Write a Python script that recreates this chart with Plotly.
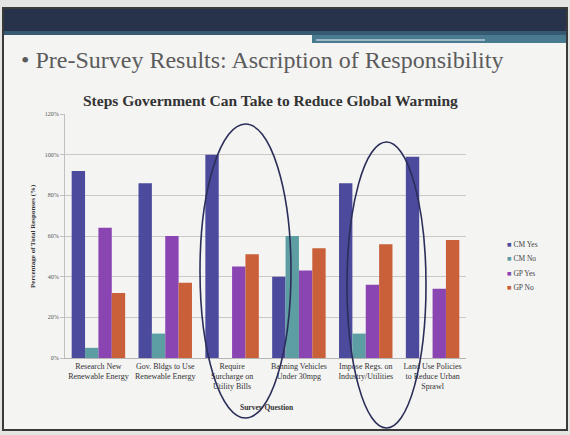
import plotly.graph_objects as go

# Survey questions (x categories)
questions = [
    "Research New<br>Renewable Energy",
    "Gov. Bldgs to Use<br>Renewable Energy",
    "Require<br>Surcharge on<br>Utility Bills",
    "Banning Vehicles<br>Under 30mpg",
    "Impose Regs. on<br>Industry/Utilities",
    "Land Use Policies<br>to Reduce Urban<br>Sprawl",
]

# Percentage of total responses per group
cm_yes = [92, 86, 100, 40, 86, 99]
cm_no = [5, 12, 0, 60, 12, 0]
gp_yes = [64, 60, 45, 43, 36, 34]
gp_no = [32, 37, 51, 54, 56, 58]

series_names = ["CM Yes", "CM No", "GP Yes", "GP No"]
series_values = [cm_yes, cm_no, gp_yes, gp_no]
series_colors = ["#4b4a9c", "#5c9ea2", "#8a45b3", "#c9603a"]

y_ticks = [0, 20, 40, 60, 80, 100, 120]

W, H = 570, 435
PL, PR, PT, PB = 65, 466, 114, 358  # plot-area edges in pixels

def px(x):
    return (x - PL) / (PR - PL)

def py(y):
    return (PB - y) / (PB - PT)

serif = "Liberation Serif"

fig = go.Figure()
for name, vals, col in zip(series_names, series_values, series_colors):
    fig.add_trace(go.Bar(
        x=questions, y=vals, name=name,
        marker=dict(color=col, line=dict(width=0)),
        showlegend=False,
    ))

shapes = []
# outer slide frame and body
shapes.append(dict(type="rect", xref="paper", yref="paper",
                   x0=px(3), x1=px(567), y0=py(430), y1=py(8),
                   fillcolor="#f4f4f3", line=dict(color="#3a3a3a", width=2),
                   layer="below"))
# header band
shapes.append(dict(type="rect", xref="paper", yref="paper",
                   x0=px(4), x1=px(566), y0=py(31), y1=py(9),
                   fillcolor="#27334b", line=dict(width=0), layer="below"))
shapes.append(dict(type="rect", xref="paper", yref="paper",
                   x0=px(4), x1=px(566), y0=py(35), y1=py(31),
                   fillcolor="#355a72", line=dict(width=0), layer="below"))
shapes.append(dict(type="rect", xref="paper", yref="paper",
                   x0=px(312), x1=px(566), y0=py(43), y1=py(35),
                   fillcolor="#4a7a90", line=dict(width=0), layer="below"))
shapes.append(dict(type="line", xref="paper", yref="paper",
                   x0=px(316), x1=px(485), y0=py(40), y1=py(40),
                   line=dict(color="#b9ccd8", width=1.5), layer="below"))
# hand-drawn highlight ellipses
for x0, x1, y0, y1 in [(200, 291, 124, 418), (347, 426, 142, 428)]:
    shapes.append(dict(type="circle", xref="paper", yref="paper",
                       x0=px(x0), x1=px(x1), y0=py(y1), y1=py(y0),
                       line=dict(color="#2b2e58", width=1.6)))

annotations = [
    dict(text="\u2022 Pre-Survey Results: Ascription of Responsibility",
         xref="paper", yref="paper", x=px(19), y=py(60),
         xanchor="left", yanchor="middle", showarrow=False,
         font=dict(family=serif, size=24, color="#5b5b5b")),
    dict(text="<b>Steps Government Can Take to Reduce Global Warming</b>",
         xref="paper", yref="paper", x=px(270), y=py(100),
         xanchor="center", yanchor="middle", showarrow=False,
         font=dict(family=serif, size=15.5, color="#333333")),
    dict(text="<b>Percentage of Total Responses (%)</b>",
         xref="paper", yref="paper", x=px(33), y=py(236),
         xanchor="center", yanchor="middle", showarrow=False, textangle=-90,
         font=dict(family=serif, size=7, color="#333333")),
    dict(text="<b>Survey Question</b>",
         xref="paper", yref="paper", x=px(267), y=py(407),
         xanchor="center", yanchor="middle", showarrow=False,
         font=dict(family=serif, size=7.5, color="#333333")),
]
# legend entries
for i, (name, col) in enumerate(zip(series_names, series_colors)):
    annotations.append(dict(
        text=f"<span style='color:{col}'>\u25a0</span> {name}",
        xref="paper", yref="paper", x=px(505), y=py(244 + i * 14.5),
        xanchor="left", yanchor="middle", showarrow=False,
        font=dict(family=serif, size=7.5, color="#444444")))

fig.update_layout(
    width=W, height=H,
    margin=dict(l=PL, r=W - PR, t=PT, b=H - PB),
    paper_bgcolor="#e4e4e2",
    plot_bgcolor="rgba(0,0,0,0)",
    barmode="group",
    bargap=0.2,
    bargroupgap=0,
    shapes=shapes,
    annotations=annotations,
    showlegend=False,
)
fig.update_xaxes(
    tickangle=0,
    tickfont=dict(family=serif, size=8, color="#333333"),
    showline=True, linecolor="#b5b5b5", linewidth=1,
    ticks="", showgrid=False,
)
fig.update_yaxes(
    range=[0, 120], tickvals=y_ticks,
    ticktext=[f"{v}%" for v in y_ticks],
    tickfont=dict(family=serif, size=6, color="#555555"),
    showgrid=True, gridcolor="#c9c9c9", gridwidth=1,
    showline=True, linecolor="#c0c0c0", linewidth=1,
    ticks="outside", ticklen=4, tickcolor="#c0c0c0",
    zeroline=False,
)

fig.write_html("out.html")
